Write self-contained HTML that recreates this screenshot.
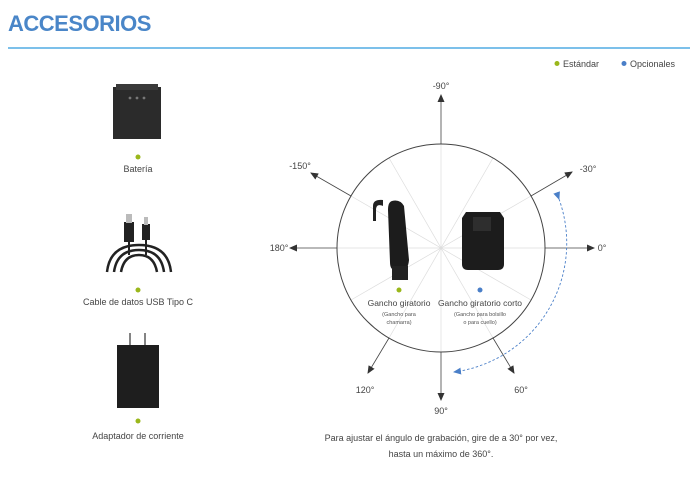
<!DOCTYPE html>
<html><head><meta charset="utf-8"><style>
html,body{margin:0;padding:0;background:#fff;width:690px;height:478px;overflow:hidden}
svg{display:block;font-family:"Liberation Sans",sans-serif}
</style></head><body>
<svg width="690" height="478" viewBox="0 0 690 478" xmlns="http://www.w3.org/2000/svg">
<defs>
<marker id="ah" markerWidth="8" markerHeight="8" refX="7" refY="4" orient="auto" markerUnits="userSpaceOnUse"><path d="M0,0.5 L8,4 L0,7.5 Z" fill="#333"/></marker>
<marker id="bh" markerWidth="8" markerHeight="8" refX="7" refY="4" orient="auto" markerUnits="userSpaceOnUse"><path d="M0,0.5 L8,4 L0,7.5 Z" fill="#4a7fc8"/></marker>
</defs>
<text x="8" y="31" font-size="22" font-weight="bold" fill="#4a86c8" letter-spacing="-0.5">ACCESORIOS</text>
<rect x="8" y="47" width="682" height="2" fill="#7cc0ea"/>
<circle cx="557" cy="63.5" r="2.5" fill="#9ab71b"/>
<text x="563" y="67" font-size="9" fill="#444">Estándar</text>
<circle cx="624" cy="63.5" r="2.5" fill="#4a7fc8"/>
<text x="630" y="67" font-size="9" fill="#444">Opcionales</text>

<rect x="113" y="87" width="48" height="52" fill="#2b2b2b"/>
<rect x="116" y="84" width="42" height="6" fill="#3a3a3a"/>
<circle cx="130" cy="98" r="1.4" fill="#777"/><circle cx="137" cy="98" r="1.4" fill="#777"/><circle cx="144" cy="98" r="1.4" fill="#777"/>
<circle cx="138" cy="157" r="2.5" fill="#9ab71b"/>
<text x="138" y="172" font-size="9" fill="#444" text-anchor="middle">Batería</text>

<rect x="124" y="222" width="10" height="20" fill="#222"/><rect x="126" y="214" width="6" height="9" fill="#bbb"/>
<rect x="142" y="224" width="8" height="16" fill="#222"/><rect x="144" y="217" width="4" height="8" fill="#bbb"/>
<path d="M129,242 L129,255 M146,240 L146,255" stroke="#222" stroke-width="2" fill="none"/>
<path d="M107,272 Q110,245 139,245 Q168,245 171,272 M114,272 Q117,250 139,250 Q161,250 164,272 M121,272 Q124,255 139,255 Q154,255 157,272" stroke="#222" stroke-width="2.5" fill="none"/>
<circle cx="138" cy="290" r="2.5" fill="#9ab71b"/>
<text x="138" y="305" font-size="9" fill="#444" text-anchor="middle">Cable de datos USB Tipo C</text>

<path d="M130,333 V346 M145,333 V346" stroke="#333" stroke-width="1.2"/>
<rect x="117" y="345" width="42" height="63" fill="#1e1e1e"/>
<circle cx="138" cy="421" r="2.5" fill="#9ab71b"/>
<text x="138" y="439" font-size="9" fill="#444" text-anchor="middle">Adaptador de corriente</text>

<g stroke="#ddd" stroke-width="0.7">
<line x1="531" y1="196" x2="351" y2="300"/><line x1="351" y1="196" x2="531" y2="300"/>
<line x1="389" y1="158" x2="493" y2="338"/><line x1="493" y1="158" x2="389" y2="338"/>
<line x1="441" y1="144" x2="441" y2="352"/><line x1="337" y1="248" x2="545" y2="248"/>
</g>
<circle cx="441" cy="248" r="104" fill="none" stroke="#444" stroke-width="1"/>
<g stroke="#444" stroke-width="0.8" fill="none" marker-end="url(#ah)">
<line x1="441" y1="144" x2="441" y2="95"/>
<line x1="545" y1="248" x2="594" y2="248"/>
<line x1="337" y1="248" x2="290" y2="248"/>
<line x1="441" y1="352" x2="441" y2="400"/>
<line x1="351" y1="196" x2="311" y2="173"/>
<line x1="531" y1="196" x2="572" y2="172"/>
<line x1="389" y1="338" x2="368" y2="373"/>
<line x1="493" y1="338" x2="514" y2="373"/>
</g>
<g font-size="9" fill="#444" text-anchor="middle">
<text x="441" y="89">-90°</text>
<text x="602" y="251">0°</text>
<text x="279" y="251">180°</text>
<text x="441" y="414">90°</text>
<text x="300" y="169">-150°</text>
<text x="588" y="172">-30°</text>
<text x="365" y="393">120°</text>
<text x="521" y="393">60°</text>
</g>
<path d="M559,199 A130,130 0 0 1 454,372" fill="none" stroke="#4a7fc8" stroke-width="0.9" stroke-dasharray="2.5,2" marker-end="url(#bh)" marker-start="url(#bh)"/>

<path d="M383,206 Q376,203 376,210 V221 L373,221 V206 Q373,199 383,200 Z" fill="#222"/>
<path d="M392,201 Q400,199 404,206 L409,260 Q408,270 403,270 H395 Q390,270 390,262 L388,210 Q388,202 392,201 Z" fill="#1c1c1c"/>
<rect x="392" y="266" width="16" height="14" fill="#222"/>
<path d="M466,212 H500 L504,218 V264 Q504,270 498,270 H468 Q462,270 462,264 V218 Z" fill="#1c1c1c"/>
<rect x="473" y="217" width="18" height="14" fill="#2e2e2e"/>
<circle cx="399" cy="290" r="2.5" fill="#9ab71b"/>
<circle cx="480" cy="290" r="2.5" fill="#4a7fc8"/>
<text x="399" y="306" font-size="8.5" fill="#444" text-anchor="middle">Gancho giratorio</text>
<text x="480" y="306" font-size="8.5" fill="#444" text-anchor="middle">Gancho giratorio corto</text>
<text x="399" y="316" font-size="5.5" fill="#555" text-anchor="middle">(Gancho para</text>
<text x="399" y="324" font-size="5.5" fill="#555" text-anchor="middle">chamarra)</text>
<text x="480" y="316" font-size="5.5" fill="#555" text-anchor="middle">(Gancho para bolsillo</text>
<text x="480" y="324" font-size="5.5" fill="#555" text-anchor="middle">o para cuello)</text>

<text x="441" y="441" font-size="9" fill="#444" text-anchor="middle">Para ajustar el ángulo de grabación, gire de a 30° por vez,</text>
<text x="441" y="457" font-size="9" fill="#444" text-anchor="middle">hasta un máximo de 360°.</text>
</svg>
</body></html>
